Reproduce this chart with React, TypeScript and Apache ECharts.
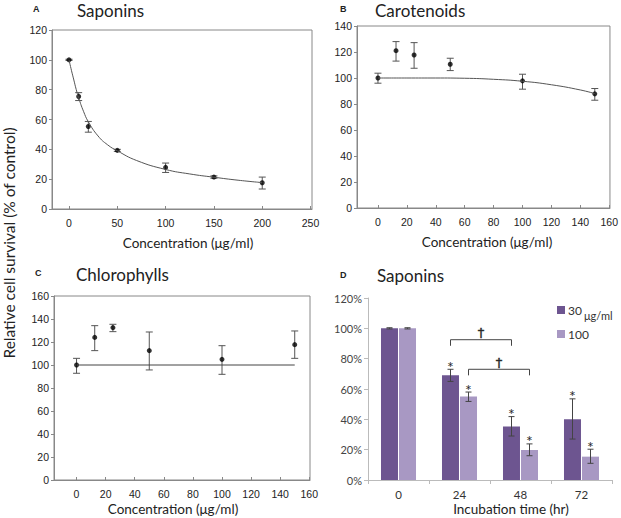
import React, { useEffect, useRef } from "react";
import * as echarts from "echarts";

// Panel A – Saponins (concentration response)
const satConc = [0, 10, 20, 50, 100, 150, 200];
const satMean = [100, 75.4, 55.3, 39.3, 27.9, 21.4, 17.6];
const satLow = [99.6, 72.7, 51.5, 38.6, 24.5, 20.6, 13.4];
const satHigh = [100.4, 78.0, 58.7, 40.0, 30.8, 22.2, 21.4];
const satFitX = [0, 2.5, 5, 7.5, 10, 15, 20, 30, 40, 50, 70, 100, 125, 150, 175, 200];
const satFitY = [100, 93, 86.5, 80, 74.5, 65.5, 58.5, 49, 43, 39, 32.5, 26.5, 23.5, 21.3, 19.3, 17.7];

// Panel B – Carotenoids
const carConc = [0, 12.5, 25, 50, 100, 150];
const carMean = [100, 121, 117.7, 110.6, 97.8, 87.8];
const carLow = [96, 113, 107.5, 105.7, 91.4, 82.9];
const carHigh = [103.7, 128, 127.2, 115.2, 102.9, 91.9];
const carFitX = [0, 20, 40, 60, 80, 100, 120, 140, 150];
const carFitY = [100, 100, 100, 99.8, 99, 97.5, 94.8, 90.8, 88];

// Panel C – Chlorophylls
const chlConc = [0, 12.5, 25, 50, 100, 150];
const chlMean = [100, 124, 132.5, 112.5, 104.9, 117.7];
const chlLow = [92.8, 112.5, 129, 95.7, 91.9, 105.8];
const chlHigh = [105.8, 134.2, 135.4, 128.7, 116.8, 129.6];
const chlFitX = [0, 150];
const chlFitY = [100, 100];

// Panel D – Saponins (time course)
const timeCats = ["0", "24", "48", "72"];
const dose30 = [100, 69, 35.2, 40];
const dose30Low = [99.6, 65, 29, 27];
const dose30High = [100.4, 73, 41.8, 53.5];
const dose100 = [100, 55, 19.8, 15.4];
const dose100Low = [99.6, 51.8, 16, 11];
const dose100High = [100.4, 58, 23.8, 20.3];
const dose30Sig = [false, true, true, true];
const dose100Sig = [false, true, true, true];
const bracketFrom = [1, 1];
const bracketTo = [2, 2];
const bracketSide = [0, 1];
const bracketTop = [92.5, 73];
const bracketFoot = [88.5, 69];

const xTicksA = [0, 50, 100, 150, 200, 250];
const xTicksBC = [0, 20, 40, 60, 80, 100, 120, 140, 160];

const SANS = "Lato";
const ARIAL = "Liberation Sans";
const DARK = "#6d5590";
const LIGHT = "#a898c3";
const INK = "#2a2a2a";

function errRender(params: any, api: any) {
  const x = api.value(0);
  const pLo = api.coord([x, api.value(1)]);
  const pHi = api.coord([x, api.value(2)]);
  const w = 3.5;
  const st = { stroke: "#555", lineWidth: 1 };
  return {
    type: "group",
    children: [
      { type: "line", shape: { x1: pLo[0], y1: pLo[1], x2: pHi[0], y2: pHi[1] }, style: st },
      { type: "line", shape: { x1: pLo[0] - w, y1: pLo[1], x2: pLo[0] + w, y2: pLo[1] }, style: st },
      { type: "line", shape: { x1: pHi[0] - w, y1: pHi[1], x2: pHi[0] + w, y2: pHi[1] }, style: st },
    ],
  };
}

const BAR_OFF = 9;

function barErrRender(params: any, api: any) {
  const c = api.value(0);
  const side = api.value(3);
  const sig = api.value(4);
  const off = side === 0 ? -BAR_OFF : BAR_OFF;
  const pLo = api.coord([c, api.value(1)]);
  const pHi = api.coord([c, api.value(2)]);
  const x = pLo[0] + off;
  const w = 3;
  const st = { stroke: "#444", lineWidth: 1 };
  const children: any[] = [
    { type: "line", shape: { x1: x, y1: pLo[1], x2: x, y2: pHi[1] }, style: st },
    { type: "line", shape: { x1: x - w, y1: pLo[1], x2: x + w, y2: pLo[1] }, style: st },
    { type: "line", shape: { x1: x - w, y1: pHi[1], x2: x + w, y2: pHi[1] }, style: st },
  ];
  if (sig) {
    children.push({
      type: "text",
      x: x,
      y: pHi[1] - 3,
      style: { text: "*", fontSize: 16, fontFamily: SANS, fill: INK, align: "center", verticalAlign: "middle" },
    });
  }
  return { type: "group", children };
}

function bracketRender(params: any, api: any) {
  const from = api.value(0);
  const to = api.value(1);
  const side = api.value(2);
  const off = side === 0 ? -BAR_OFF : BAR_OFF;
  const pA = api.coord([from, api.value(3)]);
  const pB = api.coord([to, api.value(3)]);
  const pF = api.coord([from, api.value(4)]);
  const x1 = pA[0] + off;
  const x2 = pB[0] + off;
  return {
    type: "group",
    children: [
      {
        type: "polyline",
        shape: { points: [[x1, pF[1]], [x1, pA[1]], [x2, pA[1]], [x2, pF[1]]] },
        style: { stroke: "#444", lineWidth: 1, fill: "none" },
      },
      {
        type: "text",
        x: (x1 + x2) / 2,
        y: pA[1] - 7,
        style: {
          text: "\u2020",
          fontSize: 13,
          fontFamily: "DejaVu Sans",
          fill: INK,
          stroke: INK,
          lineWidth: 0.4,
          align: "center",
          verticalAlign: "middle",
        },
      },
    ],
  };
}

function valueX(idx: number, min: number, max: number, ticks: number[]) {
  return {
    type: "value",
    gridIndex: idx,
    min,
    max,
    splitLine: { show: false },
    axisLine: { show: true, onZero: false, lineStyle: { color: "#888" } },
    axisTick: { show: true, inside: true, length: 3, customValues: ticks, lineStyle: { color: "#888" } },
    axisLabel: { customValues: ticks, margin: 8, fontSize: 10.5, fontFamily: ARIAL, color: "#222" },
  };
}

function valueY(idx: number, max: number) {
  return {
    type: "value",
    gridIndex: idx,
    min: 0,
    max,
    interval: 20,
    splitLine: { show: false },
    axisLine: { show: true, onZero: false, lineStyle: { color: "#888" } },
    axisTick: { show: true, length: 3, lineStyle: { color: "#888" } },
    axisLabel: { margin: 5, fontSize: 10.5, fontFamily: ARIAL, color: "#222" },
  };
}

const zip = (xs: number[], ys: number[]) => xs.map((x, i) => [x, ys[i]]);
const zip3 = (xs: number[], lo: number[], hi: number[]) => xs.map((x, i) => [x, lo[i], hi[i]]);

function text(x: number, y: number, t: string, size: number, opts: any = {}) {
  return {
    type: "text",
    x,
    y,
    rotation: opts.rotation || 0,
    style: {
      text: t,
      fontSize: size,
      fontFamily: opts.family || SANS,
      fontWeight: opts.weight || "normal",
      fill: opts.fill || "#222",
      align: opts.align || "left",
      verticalAlign: "middle",
    },
  };
}

export default function App() {
  const ref = useRef<HTMLDivElement>(null);
  useEffect(() => {
    if (!ref.current) return;
    const chart = echarts.init(ref.current, undefined, { renderer: "svg" });
    const gridBox = { show: true, borderColor: "#888", borderWidth: 1, backgroundColor: "transparent" };
    const option: any = {
      animation: false,
      textStyle: { fontFamily: SANS },
      grid: [
        { left: 52, top: 30, width: 260, height: 179, ...gridBox },
        { left: 357, top: 26, width: 254, height: 182, ...gridBox },
        { left: 54, top: 296, width: 256, height: 184, ...gridBox },
        { left: 368, top: 298, width: 244, height: 182 },
      ],
      xAxis: [
        valueX(0, -17.6, 251.5, xTicksA),
        valueX(1, -14.5, 160.5, xTicksBC),
        valueX(2, -15.5, 160.5, xTicksBC),
        {
          type: "category",
          gridIndex: 3,
          data: timeCats,
          axisLine: { show: true, lineStyle: { color: "#bbb" } },
          axisTick: { show: true, length: 4, lineStyle: { color: "#bbb" } },
          axisLabel: { margin: 8, fontSize: 11.5, fontFamily: SANS, color: "#333" },
        },
      ],
      yAxis: [
        valueY(0, 120),
        valueY(1, 140),
        valueY(2, 160),
        {
          type: "value",
          gridIndex: 3,
          min: 0,
          max: 120,
          interval: 20,
          splitLine: { show: false },
          axisLine: { show: true, lineStyle: { color: "#bbb" } },
          axisTick: { show: true, length: 4, lineStyle: { color: "#bbb" } },
          axisLabel: { margin: 6, fontSize: 11, fontFamily: SANS, color: "#444", formatter: "{value}%" },
        },
      ],
      legend: {
        data: ["30", "100"],
        orient: "vertical",
        left: 552,
        top: 299,
        itemWidth: 8,
        itemHeight: 8,
        itemGap: 12,
        icon: "rect",
        textStyle: { fontSize: 12, fontFamily: SANS, color: "#333", padding: [0, 0, 0, -2] },
      },
      series: [
        // A
        { type: "custom", xAxisIndex: 0, yAxisIndex: 0, renderItem: errRender, encode: { x: 0, y: [1, 2] }, data: zip3(satConc, satLow, satHigh), silent: true },
        { type: "line", xAxisIndex: 0, yAxisIndex: 0, data: zip(satFitX, satFitY), smooth: true, showSymbol: false, lineStyle: { color: "#555", width: 1 } },
        { type: "scatter", xAxisIndex: 0, yAxisIndex: 0, data: zip(satConc, satMean), symbolSize: 5, itemStyle: { color: "#000" } },
        // B
        { type: "custom", xAxisIndex: 1, yAxisIndex: 1, renderItem: errRender, encode: { x: 0, y: [1, 2] }, data: zip3(carConc, carLow, carHigh), silent: true },
        { type: "line", xAxisIndex: 1, yAxisIndex: 1, data: zip(carFitX, carFitY), smooth: true, showSymbol: false, lineStyle: { color: "#555", width: 1 } },
        { type: "scatter", xAxisIndex: 1, yAxisIndex: 1, data: zip(carConc, carMean), symbolSize: 5, itemStyle: { color: "#000" } },
        // C
        { type: "custom", xAxisIndex: 2, yAxisIndex: 2, renderItem: errRender, encode: { x: 0, y: [1, 2] }, data: zip3(chlConc, chlLow, chlHigh), silent: true },
        { type: "line", xAxisIndex: 2, yAxisIndex: 2, data: zip(chlFitX, chlFitY), showSymbol: false, lineStyle: { color: "#444", width: 1 } },
        { type: "scatter", xAxisIndex: 2, yAxisIndex: 2, data: zip(chlConc, chlMean), symbolSize: 5, itemStyle: { color: "#000" } },
        // D
        { name: "30", type: "bar", xAxisIndex: 3, yAxisIndex: 3, data: dose30, barWidth: 17, barGap: "6%", itemStyle: { color: DARK } },
        { name: "100", type: "bar", xAxisIndex: 3, yAxisIndex: 3, data: dose100, barWidth: 17, barGap: "6%", itemStyle: { color: LIGHT } },
        {
          type: "custom",
          xAxisIndex: 3,
          yAxisIndex: 3,
          renderItem: barErrRender,
          encode: { x: 0, y: [1, 2] },
          data: [
            ...timeCats.map((_, i) => [i, dose30Low[i], dose30High[i], 0, dose30Sig[i] ? 1 : 0]),
            ...timeCats.map((_, i) => [i, dose100Low[i], dose100High[i], 1, dose100Sig[i] ? 1 : 0]),
          ],
          itemStyle: { color: INK },
          silent: true,
          z: 5,
        },
        {
          type: "custom",
          xAxisIndex: 3,
          yAxisIndex: 3,
          renderItem: bracketRender,
          encode: { x: 0, y: [3, 4] },
          data: bracketFrom.map((f, i) => [f, bracketTo[i], bracketSide[i], bracketTop[i], bracketFoot[i]]),
          itemStyle: { color: INK },
          silent: true,
          z: 5,
        },
      ],
      graphic: [
        text(9, 243, "Relative cell survival (% of control)", 15.5, { rotation: Math.PI / 2, align: "center" }),
        text(33, 9, "A", 9, { family: ARIAL, weight: "bold" }),
        text(77, 10, "Saponins", 17),
        text(340, 9, "B", 9, { family: ARIAL, weight: "bold" }),
        text(375, 10, "Carotenoids", 17),
        text(35, 273, "C", 9, { family: ARIAL, weight: "bold" }),
        text(76, 274, "Chlorophylls", 17),
        text(340, 275, "D", 9, { family: ARIAL, weight: "bold" }),
        text(377, 275, "Saponins", 17),
        text(188, 243, "Concentration (\u03bcg/ml)", 13.5, { align: "center" }),
        text(487, 242, "Concentration (\u03bcg/ml)", 13.5, { align: "center" }),
        text(173, 509, "Concentration (\u03bcg/ml)", 13.5, { align: "center" }),
        text(511, 509, "Incubation time (hr)", 13.5, { align: "center" }),
        text(584, 315, "\u03bcg/ml", 11, { fill: "#333" }),
      ],
    };
    chart.setOption(option);
    return () => chart.dispose();
  }, []);
  return <div ref={ref} style={{ position: "fixed", left: 0, top: 0, width: 621, height: 518, background: "#fff" }} />;
}
